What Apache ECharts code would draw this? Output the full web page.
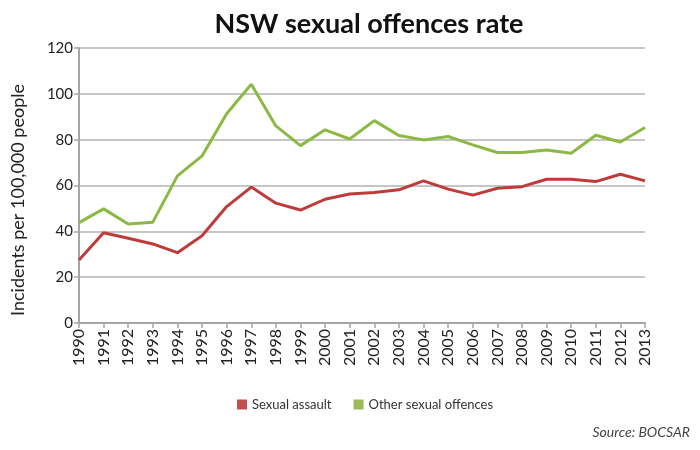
<!DOCTYPE html>
<html><head><meta charset="utf-8">
<script src="https://cdn.jsdelivr.net/npm/echarts@6/dist/echarts.min.js"></script>
<style>html,body{margin:0;padding:0;background:#fff}#c{width:700px;height:450px}</style>
</head><body><div id="c"></div>
<script>
var years = ['1990','1991','1992','1993','1994','1995','1996','1997','1998','1999','2000','2001','2002','2003','2004','2005','2006','2007','2008','2009','2010','2011','2012','2013'];
var sexualAssault = [27.5,39.4,37.0,34.5,30.7,38.1,50.8,59.3,52.3,49.3,54.0,56.3,56.9,58.1,62.0,58.4,55.8,58.8,59.5,62.7,62.7,61.7,64.9,62.0];
var otherOffences = [43.8,49.8,43.2,44.0,64.2,72.9,91.3,104.2,86.0,77.4,84.3,80.3,88.3,81.8,79.9,81.4,77.7,74.4,74.4,75.5,74.1,81.9,79.0,85.3];
var yTicks = [0,20,40,60,80,100,120];

var chart = echarts.init(document.getElementById('c'));
var font = 'Lato, "DejaVu Sans", sans-serif';
chart.setOption({
  animation: false,
  textStyle: {fontFamily: font},
  title: {text: 'NSW sexual offences rate', left: 364, textAlign: 'center', top: 6,
    textStyle: {fontSize: 27, fontWeight: 'bold', color: '#111', fontFamily: font}},
  legend: {top: 393, left: 232, itemWidth: 10, itemHeight: 10, itemGap: 22,
    icon: 'rect', textStyle: {fontSize: 13, color: '#333'},
    data: [{name: 'Sexual assault', itemStyle: {color: '#c0504d'}},
           {name: 'Other sexual offences', itemStyle: {color: '#9bbb59'}}]},
  graphic: [
    {type: 'text', right: 10, top: 425,
      style: {text: 'Source: BOCSAR', fontSize: 14, fontStyle: 'italic', fill: '#444', fontFamily: font}},
    {type: 'text', x: 18, y: 200, rotation: Math.PI / 2,
      style: {text: 'Incidents per 100,000 people', fontSize: 18, fill: '#222', fontFamily: font,
        align: 'center', verticalAlign: 'middle'}}
  ],
  grid: {left: 79, right: 55, top: 48, bottom: 127},
  xAxis: {type: 'category', boundaryGap: false, data: years,
    axisLine: {lineStyle: {color: '#a6a6a6', width: 2}},
    axisTick: {show: true, length: 5, lineStyle: {color: '#a6a6a6', width: 1.5}},
    axisLabel: {rotate: 90, fontSize: 16, color: '#222', margin: 6, interval: 0}},
  yAxis: {type: 'value', min: yTicks[0], max: yTicks[yTicks.length-1], interval: 20,
    axisLine: {show: true, lineStyle: {color: '#a6a6a6', width: 2}},
    axisTick: {show: true, length: 5, lineStyle: {color: '#a6a6a6', width: 1.5}},
    axisLabel: {fontSize: 15, color: '#222', margin: 6},
    splitLine: {lineStyle: {color: '#b3b3b3', width: 1.5}}},
  series: [
    {name: 'Sexual assault', type: 'line', data: sexualAssault, symbol: 'none',
      lineStyle: {width: 3, color: '#be3b3c'}, itemStyle: {color: '#be3b3c'}},
    {name: 'Other sexual offences', type: 'line', data: otherOffences, symbol: 'none',
      lineStyle: {width: 3, color: '#8cb944'}, itemStyle: {color: '#8cb944'}}
  ]
});
</script></body></html>
